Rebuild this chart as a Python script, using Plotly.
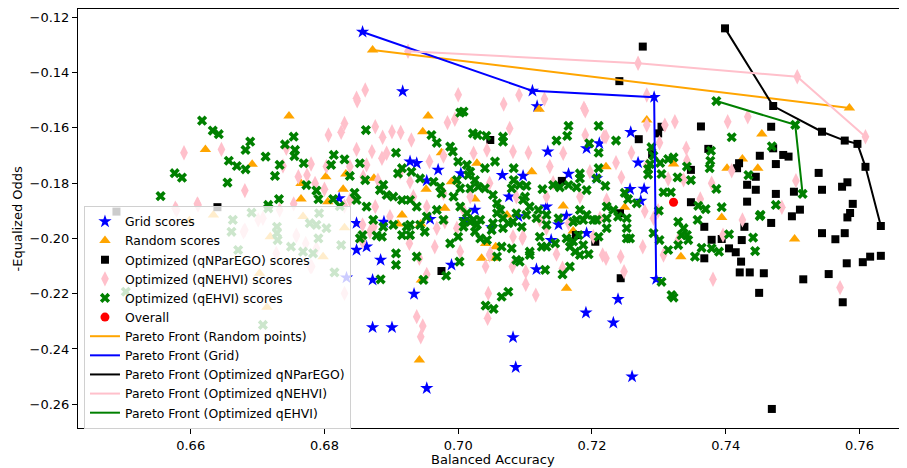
import plotly.graph_objects as go

# ---------------- data ----------------
grid_x = [0.6857, 0.7111, 0.7293, 0.7296, 0.6917, 0.7118, 0.7258, 0.7211, 0.7192, 0.7134,
          0.7269, 0.6928, 0.6938, 0.6970, 0.7004, 0.7066, 0.6953, 0.7165, 0.7207, 0.7257,
          0.7076, 0.7025, 0.6958, 0.6889, 0.7162, 0.7132, 0.7097, 0.6863, 0.6884, 0.6872,
          0.6990, 0.6934, 0.6872, 0.6901, 0.6953, 0.7082, 0.7086, 0.7117, 0.7139, 0.7192,
          0.7191, 0.7239, 0.7232, 0.7260, 0.6822, 0.6848, 0.6848, 0.6833, 0.7278, 0.7273,
          0.7090, 0.7050, 0.7150, 0.7010]
grid_y = [-0.1253, -0.1466, -0.1489, -0.2147, -0.1468, -0.1522, -0.1616, -0.1656, -0.1674, -0.1686,
          -0.1726, -0.1722, -0.1728, -0.1752, -0.1765, -0.1771, -0.1791, -0.1767, -0.1783, -0.1822,
          -0.1849, -0.1897, -0.1930, -0.1940, -0.1919, -0.1885, -0.1774, -0.2030, -0.2078, -0.2150,
          -0.2096, -0.2201, -0.2322, -0.2322, -0.2542, -0.2358, -0.2466, -0.2112, -0.2006, -0.1981,
          -0.2269, -0.2220, -0.2305, -0.2500, -0.1855, -0.1945, -0.2042, -0.2142, -0.1821, -0.1864,
          -0.1920, -0.1960, -0.1950, -0.1930]

random_x = [0.6872, 0.7585, 0.6747, 0.6622, 0.6692, 0.6802, 0.6765, 0.6828, 0.6765, 0.6805,
            0.6832, 0.6634, 0.6598, 0.6719, 0.6714, 0.6798, 0.6703, 0.6768, 0.6830, 0.6955,
            0.6947, 0.6975, 0.7028, 0.7110, 0.7121, 0.7221, 0.6874, 0.6990, 0.6952, 0.7025,
            0.7157, 0.6980, 0.6916, 0.6910, 0.6944, 0.7249, 0.7073, 0.7041, 0.7056, 0.7035,
            0.7052, 0.7162, 0.6942, 0.6945, 0.7172, 0.7282, 0.7454, 0.7425, 0.7402, 0.7448,
            0.7322, 0.7394, 0.7503, 0.7333]
random_y = [-0.1318, -0.1528, -0.1557, -0.1678, -0.1732, -0.1777, -0.1801, -0.1822, -0.1857, -0.1867,
            -0.1767, -0.1915, -0.1936, -0.1994, -0.2249, -0.2066, -0.2126, -0.1921, -0.1961, -0.1557,
            -0.1614, -0.1690, -0.1728, -0.1759, -0.1533, -0.1741, -0.1782, -0.1795, -0.1822, -0.1857,
            -0.1883, -0.1891, -0.1915, -0.1948, -0.1948, -0.1887, -0.1915, -0.2018, -0.2030, -0.2072,
            -0.2072, -0.2180, -0.2440, -0.2150, -0.1973, -0.1572, -0.1622, -0.1713, -0.1746, -0.1746,
            -0.1731, -0.1924, -0.2002, -0.2066]

parego_x = [0.7399, 0.7276, 0.7241, 0.7471, 0.7363, 0.7299, 0.7304, 0.7270, 0.7468, 0.7544,
            0.7578, 0.7597, 0.7609, 0.7632, 0.7374, 0.7290, 0.7451, 0.7471, 0.7486, 0.7494,
            0.7475, 0.7420, 0.7417, 0.7348, 0.7445, 0.7432, 0.7445, 0.7539, 0.7544, 0.7502,
            0.7475, 0.7574, 0.7582, 0.7590, 0.7586, 0.7582, 0.7511, 0.7499, 0.7432, 0.7348,
            0.7368, 0.7428, 0.7468, 0.7544, 0.7564, 0.7578, 0.7379, 0.7394, 0.7424, 0.7405,
            0.7415, 0.7368, 0.7423, 0.7421, 0.7436, 0.7457, 0.7516, 0.7554, 0.7581, 0.7605,
            0.7616, 0.7632, 0.7450, 0.7575, 0.7469, 0.7048, 0.7242, 0.7155, 0.6975, 0.7243,
            0.7205, 0.7176, 0.6640, 0.6489]
parego_y = [-0.1240, -0.1306, -0.1431, -0.1521, -0.1595, -0.1620, -0.1596, -0.1641, -0.1596, -0.1614,
            -0.1646, -0.1658, -0.1741, -0.1955, -0.1676, -0.1695, -0.1701, -0.1674, -0.1698, -0.1704,
            -0.1731, -0.1728, -0.1746, -0.1752, -0.1777, -0.1806, -0.1824, -0.1763, -0.1824, -0.1831,
            -0.1839, -0.1813, -0.1797, -0.1875, -0.1908, -0.1924, -0.1896, -0.1920, -0.1867, -0.1869,
            -0.1958, -0.1958, -0.1944, -0.1981, -0.2003, -0.1981, -0.2005, -0.2002, -0.2006, -0.2036,
            -0.2050, -0.2072, -0.2084, -0.2123, -0.2123, -0.2126, -0.2148, -0.2129, -0.2090, -0.2086,
            -0.2066, -0.2063, -0.2197, -0.2231, -0.2617, -0.1644, -0.1909, -0.1792, -0.2118, -0.2144,
            -0.2012, -0.1988, -0.1887, -0.1903]

nehvi_x = [0.6925, 0.7269, 0.7507, 0.7609, 0.6848, 0.6861, 0.7000, 0.7068, 0.7091, 0.7129,
           0.7188, 0.7218, 0.7309, 0.7324, 0.7403, 0.7433, 0.7341, 0.7301, 0.7259, 0.7282,
           0.7282, 0.7379, 0.7362, 0.7337, 0.7314, 0.7409, 0.7505, 0.7484, 0.7279, 0.7299,
           0.7342, 0.7282, 0.7276, 0.7307, 0.7381, 0.7396, 0.7425, 0.7571, 0.7292, 0.7329,
           0.7045, 0.7044, 0.6938, 0.6947, 0.6944, 0.7101, 0.7116, 0.7101, 0.7081, 0.7243,
           0.7248, 0.7216, 0.7221, 0.7147, 0.7156, 0.7041, 0.7048, 0.6965, 0.6927, 0.6942,
           0.6953, 0.7082, 0.7097, 0.7047, 0.6980, 0.6998, 0.6968, 0.6857, 0.6868, 0.7132,
           0.7212, 0.6779, 0.6758, 0.6708, 0.6830, 0.6681, 0.6788, 0.6579, 0.6611, 0.6679,
           0.6701, 0.6733, 0.6758, 0.6772, 0.6781, 0.6728, 0.6590, 0.6646, 0.6681, 0.6610,
           0.6577, 0.6830, 0.6825, 0.6806, 0.6848, 0.6849, 0.6780, 0.6774, 0.6786, 0.6803,
           0.6838, 0.6754, 0.6800, 0.6743, 0.6838, 0.6830, 0.6738, 0.6761, 0.7190, 0.6984,
           0.6995, 0.6876, 0.6901, 0.6914, 0.6887, 0.6930, 0.7077, 0.7190, 0.7221, 0.7157,
           0.7105, 0.7082, 0.7043, 0.7023, 0.6978, 0.6957, 0.6871, 0.6886, 0.6893, 0.6863,
           0.6913, 0.7236, 0.7244, 0.7197, 0.7137, 0.6858, 0.6880, 0.6978, 0.6876, 0.6933,
           0.6953, 0.7132, 0.7087, 0.7182, 0.7222, 0.7047, 0.7008, 0.7063, 0.7122, 0.6898,
           0.7018, 0.7142, 0.6928, 0.6857, 0.6874, 0.7003, 0.7096, 0.7202, 0.7165]
nehvi_y = [-0.1323, -0.1366, -0.1415, -0.1632, -0.1493, -0.1463, -0.1480, -0.1514, -0.1481, -0.1496,
           -0.1529, -0.1632, -0.1590, -0.1578, -0.1578, -0.1560, -0.1674, -0.1654, -0.1690, -0.1590,
           -0.1481, -0.1800, -0.1857, -0.1788, -0.1785, -0.1755, -0.1791, -0.1887, -0.1902, -0.1900,
           -0.1719, -0.1737, -0.2030, -0.2060, -0.2148, -0.1988, -0.1933, -0.2178, -0.1927, -0.2006,
           -0.2199, -0.2289, -0.2283, -0.2317, -0.2356, -0.2166, -0.2205, -0.2120, -0.2102, -0.2066,
           -0.2120, -0.2060, -0.2072, -0.2057, -0.2108, -0.2102, -0.2054, -0.2030, -0.2018, -0.2072,
           -0.2130, -0.1994, -0.1994, -0.2060, -0.1940, -0.1963, -0.1963, -0.2011, -0.1976, -0.1963,
           -0.1927, -0.2102, -0.1988, -0.1927, -0.2199, -0.1970, -0.2036, -0.1897, -0.1879, -0.1976,
           -0.1933, -0.1897, -0.1991, -0.2018, -0.2102, -0.2054, -0.1690, -0.1678, -0.1827, -0.1875,
           -0.1891, -0.1584, -0.1616, -0.1626, -0.1678, -0.1502, -0.1731, -0.1771, -0.1801, -0.1740,
           -0.1740, -0.1875, -0.1822, -0.1674, -0.1861, -0.1883, -0.1738, -0.1777, -0.1538, -0.1581,
           -0.1569, -0.1596, -0.1614, -0.1617, -0.1634, -0.1644, -0.1602, -0.1626, -0.1632, -0.1692,
           -0.1690, -0.1686, -0.1680, -0.1692, -0.1702, -0.1722, -0.1686, -0.1710, -0.1692, -0.1734,
           -0.1762, -0.1726, -0.1779, -0.1759, -0.1740, -0.1777, -0.1789, -0.1837, -0.1885, -0.1849,
           -0.1885, -0.1849, -0.1849, -0.1849, -0.1861, -0.1800, -0.1897, -0.1897, -0.1933, -0.1921,
           -0.1849, -0.1799, -0.1795, -0.1951, -0.1958, -0.2048, -0.2000, -0.1994, -0.1945]

qehvi_x = [0.7386, 0.7504, 0.7515, 0.6617, 0.6633, 0.6642, 0.6689, 0.6682, 0.6657, 0.6669,
           0.6682, 0.6712, 0.6733, 0.6726, 0.6576, 0.6587, 0.6655, 0.6555, 0.6732, 0.6754,
           0.6741, 0.6756, 0.6755, 0.6769, 0.6814, 0.6810, 0.6830, 0.6838, 0.6773, 0.6788,
           0.6791, 0.6813, 0.6845, 0.6848, 0.6716, 0.6823, 0.6661, 0.6691, 0.6729, 0.6729,
           0.6730, 0.6716, 0.6671, 0.6503, 0.6708, 0.6778, 0.6788, 0.6803, 0.6791, 0.6768,
           0.6783, 0.6792, 0.6815, 0.6750, 0.6825, 0.6663, 0.6862, 0.7003, 0.7008, 0.6907,
           0.6960, 0.6968, 0.6988, 0.6992, 0.7022, 0.7029, 0.7042, 0.7067, 0.7067, 0.7165,
           0.7163, 0.7210, 0.7147, 0.7196, 0.7236, 0.7210, 0.7000, 0.7013, 0.7018, 0.7040,
           0.7055, 0.7083, 0.7182, 0.7210, 0.6861, 0.6853, 0.6916, 0.6910, 0.6930, 0.6883,
           0.6893, 0.6888, 0.6903, 0.6916, 0.6928, 0.6938, 0.6943, 0.6963, 0.6973, 0.6975,
           0.6998, 0.7003, 0.6993, 0.7015, 0.7025, 0.7030, 0.7018, 0.7040, 0.7052, 0.7058,
           0.7063, 0.7083, 0.7080, 0.7092, 0.7102, 0.7100, 0.7126, 0.7142, 0.7152, 0.7165,
           0.7182, 0.7177, 0.7192, 0.7207, 0.7220, 0.7249, 0.7254, 0.7267, 0.7222, 0.7232,
           0.7239, 0.7222, 0.7182, 0.7192, 0.7202, 0.7177, 0.7120, 0.7132, 0.7117, 0.7132,
           0.7097, 0.7107, 0.7102, 0.7087, 0.7058, 0.7067, 0.7075, 0.7052, 0.7003, 0.7013,
           0.7023, 0.7008, 0.7028, 0.6968, 0.6978, 0.6953, 0.6943, 0.6928, 0.6873, 0.6888,
           0.6903, 0.6863, 0.6886, 0.6878, 0.6907, 0.6907, 0.6938, 0.6948, 0.6884, 0.6923,
           0.6916, 0.6928, 0.6950, 0.6988, 0.6982, 0.7002, 0.7000, 0.7008, 0.7025, 0.7033,
           0.7043, 0.7018, 0.7033, 0.7050, 0.7058, 0.7067, 0.7065, 0.7080, 0.7087, 0.7092,
           0.7107, 0.7107, 0.7095, 0.7082, 0.7122, 0.7125, 0.7132, 0.7145, 0.7130, 0.7041,
           0.7053, 0.7065, 0.7075, 0.7156, 0.7167, 0.7150, 0.7162, 0.7167, 0.7175, 0.7182,
           0.7195, 0.7172, 0.7187, 0.7180, 0.7210, 0.7222, 0.7252, 0.7257, 0.7252, 0.7252,
           0.7207, 0.7187, 0.7172, 0.6853, 0.6857, 0.7292, 0.7301, 0.7304, 0.7319, 0.7322,
           0.7314, 0.7329, 0.7337, 0.7342, 0.7329, 0.7344, 0.7334, 0.7358, 0.7354, 0.7364,
           0.7379, 0.7390, 0.7405, 0.7441, 0.7444, 0.7451, 0.7409, 0.7469, 0.7378, 0.7377,
           0.7376, 0.7289, 0.7292, 0.7302, 0.7314, 0.7322, 0.7284, 0.7284, 0.7304, 0.7287,
           0.7342, 0.7348, 0.7328, 0.7307, 0.7318, 0.7386, 0.7434, 0.7359, 0.7370, 0.7394,
           0.7452, 0.7475, 0.7300]
qehvi_y = [-0.1503, -0.1589, -0.1839, -0.1574, -0.1610, -0.1623, -0.1650, -0.1680, -0.1719, -0.1738,
           -0.1750, -0.1704, -0.1734, -0.1774, -0.1764, -0.1780, -0.1798, -0.1847, -0.1858, -0.1632,
           -0.1660, -0.1680, -0.1702, -0.1728, -0.1698, -0.1734, -0.1714, -0.1774, -0.1807, -0.1827,
           -0.1858, -0.1858, -0.1835, -0.1861, -0.1891, -0.1883, -0.1976, -0.1907, -0.1958, -0.1981,
           -0.2006, -0.1879, -0.2042, -0.2193, -0.2313, -0.1945, -0.1951, -0.1963, -0.2000, -0.2048,
           -0.2054, -0.1909, -0.2123, -0.2030, -0.2024, -0.1933, -0.1608, -0.1545, -0.1541, -0.1690,
           -0.1626, -0.1654, -0.1668, -0.1686, -0.1620, -0.1626, -0.1629, -0.1632, -0.1650, -0.1593,
           -0.1629, -0.1593, -0.1646, -0.1656, -0.1646, -0.1690, -0.1722, -0.1734, -0.1759, -0.1746,
           -0.1722, -0.1746, -0.1765, -0.1746, -0.1789, -0.1728, -0.1746, -0.1765, -0.1759, -0.1825,
           -0.1843, -0.1806, -0.1849, -0.1861, -0.1861, -0.1885, -0.1783, -0.1795, -0.1813, -0.1837,
           -0.1789, -0.1819, -0.1849, -0.1771, -0.1789, -0.1813, -0.1819, -0.1819, -0.1843, -0.1873,
           -0.1897, -0.1789, -0.1819, -0.1807, -0.1810, -0.1849, -0.1822, -0.1807, -0.1815, -0.1807,
           -0.1783, -0.1815, -0.1825, -0.1783, -0.1810, -0.1835, -0.1858, -0.1873, -0.1885, -0.1897,
           -0.1921, -0.1927, -0.1897, -0.1915, -0.1933, -0.1933, -0.1897, -0.1915, -0.1927, -0.1951,
           -0.1861, -0.1885, -0.1915, -0.1909, -0.1909, -0.1927, -0.1945, -0.1945, -0.1885, -0.1909,
           -0.1933, -0.1940, -0.1951, -0.1897, -0.1933, -0.1921, -0.1951, -0.1951, -0.1933, -0.1958,
           -0.1951, -0.1885, -0.1994, -0.1990, -0.2054, -0.2096, -0.2066, -0.2150, -0.2148, -0.1958,
           -0.1988, -0.1988, -0.1976, -0.2018, -0.2135, -0.2084, -0.1994, -0.1958, -0.1976, -0.2000,
           -0.2006, -0.1940, -0.1933, -0.1970, -0.2066, -0.1963, -0.2030, -0.2036, -0.2078, -0.2084,
           -0.2048, -0.2060, -0.1958, -0.1940, -0.1994, -0.2030, -0.2030, -0.2018, -0.2114, -0.2243,
           -0.2255, -0.2211, -0.2193, -0.2130, -0.2102, -0.1927, -0.2000, -0.2030, -0.2048, -0.2060,
           -0.2057, -0.2011, -0.2024, -0.1988, -0.1994, -0.1963, -0.2000, -0.2000, -0.1963, -0.1927,
           -0.1933, -0.1933, -0.1940, -0.2000, -0.1988, -0.1981, -0.2006, -0.2157, -0.2205, -0.2214,
           -0.2042, -0.1940, -0.1963, -0.1988, -0.2024, -0.2006, -0.1988, -0.1933, -0.2066, -0.2034,
           -0.2036, -0.2048, -0.1985, -0.1997, -0.2046, -0.1919, -0.1634, -0.1667, -0.1683, -0.1719,
           -0.1746, -0.1670, -0.1701, -0.1727, -0.1713, -0.1707, -0.1749, -0.1769, -0.1767, -0.1731,
           -0.1740, -0.1789, -0.1779, -0.1833, -0.1833, -0.1821, -0.1771, -0.1882, -0.1894, -0.1887,
           -0.1915, -0.1879, -0.1900]

overall_x = [0.7322]
overall_y = [-0.1869]

front_random_x = [0.6872, 0.7585]
front_random_y = [-0.1318, -0.1528]
front_grid_x = [0.6857, 0.7111, 0.7293, 0.7296]
front_grid_y = [-0.1253, -0.1466, -0.1489, -0.2147]
front_parego_x = [0.7399, 0.7471, 0.7544, 0.7578, 0.7597, 0.7609, 0.7632]
front_parego_y = [-0.1240, -0.1521, -0.1614, -0.1646, -0.1658, -0.1741, -0.1955]
front_nehvi_x = [0.6925, 0.7269, 0.7507, 0.7609]
front_nehvi_y = [-0.1323, -0.1366, -0.1415, -0.1632]
front_qehvi_x = [0.7386, 0.7504, 0.7515]
front_qehvi_y = [-0.1503, -0.1589, -0.1839]

x_ticks = [0.66, 0.68, 0.70, 0.72, 0.74, 0.76]
y_ticks = [-0.26, -0.24, -0.22, -0.20, -0.18, -0.16, -0.14, -0.12]

FONT = "DejaVu Sans"

fig = go.Figure()


def scat(x, y, name, symbol, color, size):
    fig.add_trace(go.Scatter(x=x, y=y, mode="markers", name=name,
                             marker=dict(symbol=symbol, color=color, size=size,
                                         line=dict(width=0))))


scat(grid_x, grid_y, "Grid scores", "star", "blue", 10)
scat(random_x, random_y, "Random scores", "triangle-up", "orange", 10)
scat(parego_x, parego_y, "Optimized (qNParEGO) scores", "square", "black", 8)
scat(nehvi_x, nehvi_y, "Optimized (qNEHVI) scores", "diamond-tall", "pink", 11)
scat(qehvi_x, qehvi_y, "Optimized (qEHVI) scores", "x", "green", 9)
scat(overall_x, overall_y, "Overall", "circle", "red", 9)


def front(x, y, name, color):
    fig.add_trace(go.Scatter(x=x, y=y, mode="lines", name=name,
                             line=dict(color=color, width=2)))


front(front_random_x, front_random_y, "Pareto Front (Random points)", "orange")
front(front_grid_x, front_grid_y, "Pareto Front (Grid)", "blue")
front(front_parego_x, front_parego_y, "Pareto Front (Optimized qNParEGO)", "black")
front(front_nehvi_x, front_nehvi_y, "Pareto Front (Optimized qNEHVI)", "pink")
front(front_qehvi_x, front_qehvi_y, "Pareto Front (Optimized qEHVI)", "green")

axis_common = dict(showgrid=False, zeroline=False, showline=True, linecolor="black",
                   linewidth=1, ticks="outside", ticklen=5, tickcolor="black",
                   tickfont=dict(family=FONT, size=13, color="black"),
                   tickformat=".2f", automargin=False)

# The page body has an 8px default margin, so the figure is 8px smaller in
# each direction and its margins are reduced accordingly.
fig.update_layout(
    width=899, height=460,
    margin=dict(l=70, r=0, t=1, b=40),
    plot_bgcolor="white", paper_bgcolor="white",
    font=dict(family=FONT, size=13, color="black"),
    xaxis=dict(range=[0.64315, 0.76711], tickvals=x_ticks, mirror=True, **axis_common),
    yaxis=dict(range=[-0.26859, -0.11700], tickvals=y_ticks, **axis_common),
    legend=dict(x=0.0072, y=0.530, xanchor="left", yanchor="top",
                bgcolor="rgba(255,255,255,0.8)", bordercolor="#d0d0d0", borderwidth=1,
                font=dict(family=FONT, size=12.4, color="black"), tracegroupgap=0,
                itemwidth=30),
    showlegend=True,
    annotations=[
        dict(text="Balanced Accuracy", xref="paper", yref="paper", x=0.5, y=-0.074,
             xanchor="center", yanchor="middle", showarrow=False,
             font=dict(family=FONT, size=13, color="black")),
        dict(text="-Equalized Odds", xref="paper", yref="paper", x=-0.0724, y=0.5,
             xanchor="center", yanchor="middle", textangle=-90, showarrow=False,
             font=dict(family=FONT, size=13, color="black")),
    ],
)

fig.write_html("out.html")
